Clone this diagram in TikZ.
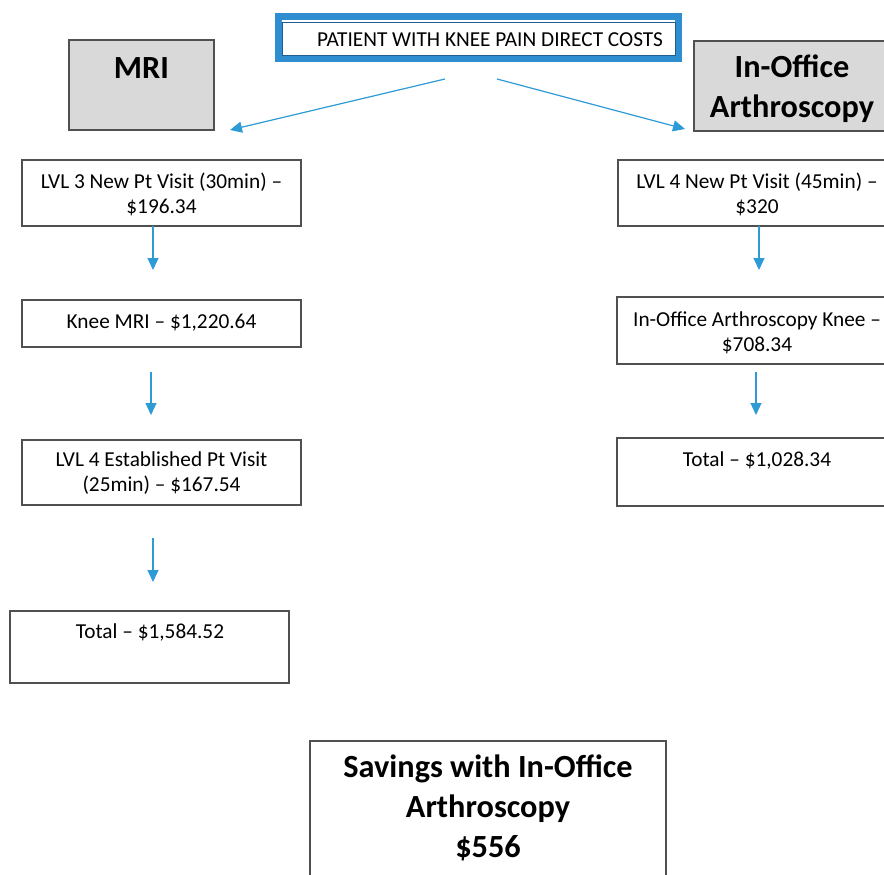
\documentclass[tikz,border=0pt]{standalone}
\usepackage{fontspec}
\setmainfont{Carlito}
\usetikzlibrary{arrows.meta}
\definecolor{arrowblue}{HTML}{2E9BD6}
\definecolor{bandblue}{HTML}{2F8ECF}
\definecolor{darkband}{HTML}{1C5E8E}
\definecolor{boxgray}{HTML}{D9D9D9}
\definecolor{edgegray}{HTML}{505050}
\tikzset{
  box/.style={draw=edgegray, line width=1.2pt, fill=white, rectangle, inner sep=0pt},
  graybox/.style={box, fill=boxgray},
  txt/.style={inner sep=0pt, align=center, font=\fontsize{21.3}{25}\selectfont},
  bigtxt/.style={inner sep=0pt, align=center, font=\bfseries\fontsize{32.3}{40}\selectfont},
  arr/.style={draw=arrowblue, line width=1.2pt, -{Triangle[length=12pt,width=11pt]}}
}
\begin{document}
\begin{tikzpicture}[x=1pt,y=-1pt]
\useasboundingbox (0,0) rectangle (884,875);
\clip (0,0) rectangle (884,875);
\fill[white] (0,0) rectangle (884,875);

% top box
\node[draw=bandblue, line width=7pt, fill=white, minimum width=400pt, minimum height=42pt, inner sep=0pt] (top) at (478,37.5) {};
\draw[darkband, line width=0.9pt] (282,22) rectangle (675,55);
\node[txt] at (490,40) {PATIENT WITH KNEE PAIN DIRECT COSTS};

% headers
\node[graybox, minimum width=145pt, minimum height=90pt] (mri) at (141.5,85) {};
\node[bigtxt] at (141.5,68) {MRI};
\node[graybox, minimum width=196pt, minimum height=90pt] (ioa) at (792,86) {};
\node[bigtxt] at (792,89) {In-Office\\Arthroscopy};

% left column
\node[box, minimum width=279pt, minimum height=66pt] (l1) at (161.5,193) {};
\node[txt] at (161.5,194.5) {LVL 3 New Pt Visit (30min) --\\\$196.34};
\node[box, minimum width=279pt, minimum height=47pt] (l2) at (161.5,323.5) {};
\node[txt] at (161.5,323) {Knee MRI -- \$1,220.64};
\node[box, minimum width=279pt, minimum height=65pt] (l3) at (161.5,472.5) {};
\node[txt] at (161.5,473) {LVL 4 Established Pt Visit\\(25min) -- \$167.54};
\node[box, minimum width=279pt, minimum height=72pt] (l4) at (149.5,647) {};
\node[txt] at (150,632) {Total -- \$1,584.52};

% right column
\node[box, minimum width=278pt, minimum height=66pt] (r1) at (757,193) {};
\node[txt] at (757,194.5) {LVL 4 New Pt Visit (45min) --\\\$320};
\node[box, minimum width=280pt, minimum height=67pt] (r2) at (757,330.5) {};
\node[txt] at (757,332.5) {In-Office Arthroscopy Knee --\\\$708.34};
\node[box, minimum width=280pt, minimum height=68pt] (r3) at (757,472) {};
\node[txt] at (757,460) {Total -- \$1,028.34};

% savings
\node[box, minimum width=356pt, minimum height=150pt] (sav) at (488,816) {};
\node[bigtxt] at (488,808) {Savings with In-Office\\Arthroscopy\\\$556};

% connectors
\coordinate (tl) at (445,79);
\coordinate (tle) at (230,130);
\coordinate (tr) at (497,79);
\coordinate (tre) at (685,129);
\draw[arr] (tl) -- (tle);
\draw[arr] (tr) -- (tre);

\draw[arr, shorten >=30pt] (153,226) -- (153,300);
\draw[arr, shorten <=25pt, shorten >=25pt] (151,347) -- (151,440);
\draw[arr, shorten <=33pt, shorten >=29pt] (153,505) -- (153,611);
\draw[arr, shorten >=27pt] (759,226) -- (759,297);
\draw[arr, shorten <=8pt, shorten >=23pt] (756,364) -- (756,438);
\end{tikzpicture}
\end{document}
